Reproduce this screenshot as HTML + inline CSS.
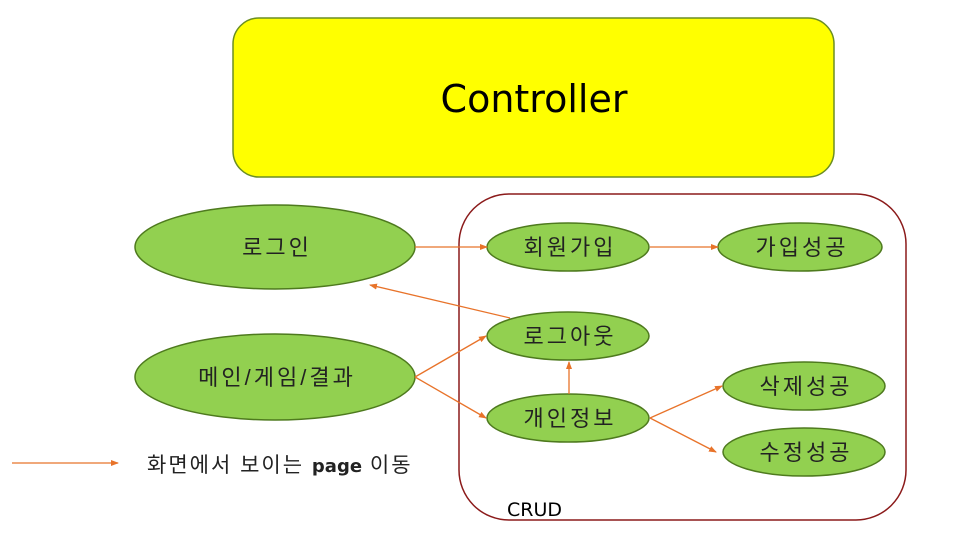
<!DOCTYPE html>
<html><head><meta charset="utf-8"><style>
body{margin:0;background:#fff}
svg text{font-family:"Liberation Sans","Noto Sans CJK KR",sans-serif}
</style></head><body>
<svg width="960" height="540" viewBox="0 0 960 540">
<defs><marker id="a" markerWidth="8" markerHeight="8" refX="7" refY="3" orient="auto" markerUnits="userSpaceOnUse"><path d="M0,0L8,3L0,6z" fill="#e8732a"/></marker></defs>
<rect x="233" y="18" width="601" height="159" rx="26" fill="#ffff00" stroke="#6b8e23" stroke-width="1.5"/>
<text x="534" y="112" font-size="38" text-anchor="middle" fill="#000" style="font-family:'DejaVu Sans',sans-serif">Controller</text>
<rect x="459" y="194" width="447" height="326" rx="50" fill="none" stroke="#8b1a1a" stroke-width="1.5"/>
<g fill="#92d050" stroke="#4e7a1e" stroke-width="1.5">
<ellipse cx="275" cy="247" rx="140" ry="42"/>
<ellipse cx="275" cy="377" rx="140" ry="43"/>
<ellipse cx="568" cy="247" rx="81" ry="24"/>
<ellipse cx="800" cy="247" rx="82" ry="24"/>
<ellipse cx="568" cy="336" rx="81" ry="24"/>
<ellipse cx="568" cy="418" rx="81" ry="24"/>
<ellipse cx="804" cy="386" rx="81" ry="24"/>
<ellipse cx="804" cy="452" rx="81" ry="24"/>
</g>
<g stroke="#e8732a" stroke-width="1.3" fill="none" marker-end="url(#a)">
<line x1="415" y1="247" x2="487" y2="247"/>
<line x1="650" y1="247" x2="718" y2="247"/>
<line x1="510" y1="318" x2="370" y2="285"/>
<line x1="415" y1="377" x2="486" y2="336"/>
<line x1="415" y1="377" x2="486" y2="418"/>
<line x1="569" y1="394" x2="569" y2="362"/>
<line x1="650" y1="418" x2="722" y2="386"/>
<line x1="650" y1="418" x2="716" y2="452"/>
<line x1="12" y1="463" x2="118" y2="463"/>
</g>
<g font-size="22" text-anchor="middle" fill="#222" letter-spacing="3">
<text x="277" y="255">로그인</text>
<text x="277" y="385">메인/게임/결과</text>
<text x="570" y="255">회원가입</text>
<text x="802" y="255">가입성공</text>
<text x="570" y="344">로그아웃</text>
<text x="570" y="426">개인정보</text>
<text x="806" y="394">삭제성공</text>
<text x="806" y="460">수정성공</text>
</g>
<text x="147" y="472" font-size="21" fill="#222" letter-spacing="2">화면에서 보이는 <tspan style="font-family:'DejaVu Sans',sans-serif" font-size="18" font-weight="bold" letter-spacing="0">page</tspan> 이동</text>
<text x="507" y="516" font-size="19" fill="#000" style="font-family:'DejaVu Sans',sans-serif">CRUD</text>
</svg>
</body></html>
